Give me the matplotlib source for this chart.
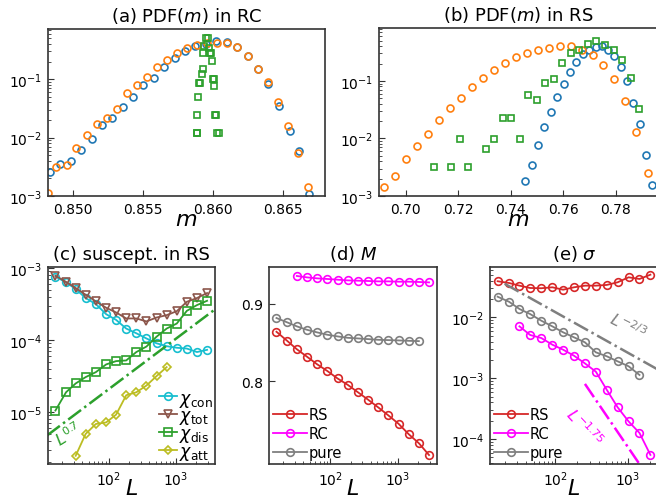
import numpy as np
import matplotlib
matplotlib.use("Agg")
import matplotlib.pyplot as plt

# ---------------- data ----------------
# (a) PDF(m) in RC
a_blue_m = [0.84831, 0.84906, 0.84981, 0.85054, 0.85131, 0.85204, 0.85279, 0.85354, 0.85429,
            0.85502, 0.85577, 0.85652, 0.85727, 0.85799, 0.85872, 0.85947, 0.86020, 0.86097,
            0.86172, 0.86247, 0.86322, 0.86395, 0.86470, 0.86547, 0.86617, 0.86688]
a_blue_p = [2.58e-3, 3.5e-3, 3.9e-3, 6.2e-3, 9.6e-3, 1.63e-2, 2.17e-2, 3.36e-2, 4.98e-2,
            8.0e-2, 0.103, 0.161, 0.226, 0.306, 0.373, 0.40, 0.45, 0.425,
            0.35, 0.245, 0.148, 0.081, 0.035, 0.013, 5.9e-3, 1.07e-3]
a_orange_m = [0.84820, 0.84878, 0.84953, 0.85023, 0.85098, 0.85171, 0.85241, 0.85312, 0.85382,
              0.85455, 0.85527, 0.85600, 0.85670, 0.85743, 0.85813, 0.85886, 0.85959, 0.86031,
              0.86102, 0.86172, 0.86247, 0.86320, 0.86392, 0.86465, 0.86535, 0.86605, 0.86680]
a_orange_p = [1.14e-3, 3.1e-3, 3.4e-3, 6.6e-3, 1.11e-2, 1.69e-2, 2.2e-2, 3.1e-2, 5.7e-2,
              7.9e-2, 0.11, 0.158, 0.21, 0.28, 0.336, 0.388, 0.42, 0.41,
              0.41, 0.35, 0.25, 0.15, 0.088, 0.04, 0.0155, 5.5e-3, 1.4e-3]
a_green_m = [0.85884, 0.85887, 0.85886, 0.85895, 0.85902, 0.85905, 0.85919, 0.85926, 0.85930,
             0.85938, 0.85948, 0.85962, 0.85970, 0.85975, 0.85985, 0.85990, 0.85998, 0.86003,
             0.86010, 0.86016, 0.86020, 0.86030, 0.86040]
a_green_p = [0.0122, 0.0122, 0.0244, 0.0485, 0.085, 0.085, 0.122, 0.148, 0.28,
             0.37, 0.5, 0.5, 0.34, 0.28, 0.28, 0.206, 0.1, 0.1,
             0.075, 0.0244, 0.0244, 0.0122, 0.0122]

# (b) PDF(m) in RS
b_blue_m = [0.7454, 0.7480, 0.7505, 0.7528, 0.7554, 0.7578, 0.7601, 0.7626, 0.7650, 0.7674,
            0.7698, 0.7723, 0.7747, 0.7770, 0.7795, 0.7819, 0.7843, 0.7867, 0.7891, 0.7915, 0.7940]
b_blue_p = [1.82e-3, 3.4e-3, 7.6e-3, 1.55e-2, 2.9e-2, 5.3e-2, 8.8e-2, 0.143, 0.214, 0.288,
            0.35, 0.39, 0.40, 0.34, 0.266, 0.171, 0.099, 0.042, 0.0179, 5.1e-3, 1.55e-3]
b_orange_m = [0.6917, 0.6958, 0.7000, 0.7043, 0.7084, 0.7126, 0.7169, 0.7211, 0.7253, 0.7294,
              0.7335, 0.7377, 0.7419, 0.7460, 0.7502, 0.7545, 0.7587, 0.7629, 0.7670, 0.7712,
              0.7752, 0.7795, 0.7837, 0.7879, 0.7921]
b_orange_p = [1.46e-3, 2.2e-3, 4.35e-3, 7.4e-3, 1.2e-2, 2.1e-2, 3.4e-2, 5.1e-2, 7.8e-2, 0.111,
              0.153, 0.203, 0.255, 0.31, 0.34, 0.375, 0.40, 0.40, 0.34, 0.28,
              0.19, 0.107, 0.044, 0.0131, 2.5e-3]
b_green_m = [0.7108, 0.7173, 0.7206, 0.7237, 0.7304, 0.7337, 0.7370, 0.7402, 0.7434, 0.7467,
             0.7500, 0.7532, 0.7564, 0.7597, 0.7629, 0.7661, 0.7694, 0.7726, 0.7759, 0.7792,
             0.7825, 0.7858, 0.7890]
b_green_p = [3.2e-3, 3.2e-3, 9.7e-3, 3.2e-3, 6.5e-3, 9.7e-3, 2.3e-2, 2.3e-2, 9.9e-3, 5.6e-2,
             4.6e-2, 0.092, 0.11, 0.208, 0.30, 0.346, 0.43, 0.49, 0.42, 0.346,
             0.23, 0.113, 0.033]

# system sizes
L = [16, 23, 32, 45, 64, 91, 128, 181, 256, 362, 512, 724, 1024, 1448, 2048, 2896]

# (c) susceptibilities in RS
chi_con = [7.57e-4, 6.3e-4, 5.1e-4, 3.82e-4, 3.15e-4, 2.28e-4, 1.9e-4, 1.44e-4,
           1.24e-4, 1.05e-4, 9.0e-5, 8.2e-5, 7.8e-5, 7.6e-5, 6.8e-5, 7.3e-5]
chi_tot = [7.8e-4, 6.4e-4, 5.26e-4, 4.25e-4, 3.43e-4, 2.8e-4, 2.41e-4, 1.99e-4,
           1.99e-4, 1.81e-4, 2.05e-4, 2.21e-4, 2.51e-4, 3.39e-4, 3.82e-4, 4.48e-4]
chi_dis = [1.05e-5, 1.88e-5, 2.49e-5, 3.05e-5, 3.58e-5, 4.58e-5, 5.09e-5, 5.2e-5,
           6.8e-5, 8.1e-5, 1.11e-4, 1.44e-4, 1.69e-4, 2.54e-4, 3.05e-4, 3.5e-4]
L_att = [32, 45, 64, 91, 128, 181, 256, 362, 512, 724]
chi_att = [2.47e-6, 4.96e-6, 6.83e-6, 7.18e-6, 9.2e-6, 1.71e-5, 1.88e-5, 2.33e-5, 3.15e-5, 4.2e-5]

# (d) magnetisation M
M_RS = [0.8639, 0.8522, 0.8413, 0.8318, 0.8218, 0.8130, 0.8035, 0.7953,
        0.7857, 0.7761, 0.7661, 0.7557, 0.7449, 0.7314, 0.7197, 0.7044]
L_RC = L[2:]
M_RC = [0.9361, 0.9343, 0.9330, 0.9322, 0.9313, 0.9304, 0.9300,
        0.9296, 0.9291, 0.9291, 0.9287, 0.9287, 0.9283, 0.9278]
L_pure = L[:15]
M_pure = [0.8817, 0.8761, 0.8709, 0.8665, 0.8631, 0.8600, 0.8579, 0.8561,
          0.8553, 0.8544, 0.8535, 0.8531, 0.8527, 0.8522, 0.8518]

# (e) sigma
Ls_RS = L[:15]
sig_RS = [0.0391, 0.0366, 0.0331, 0.0303, 0.0300, 0.0311, 0.0284, 0.0311,
          0.0331, 0.0331, 0.034, 0.0376, 0.0454, 0.0426, 0.0501]
Ls_RC = L[2:15]
sig_RC = [7.1e-3, 5.12e-3, 4.57e-3, 3.55e-3, 2.94e-3, 2.34e-3, 1.75e-3,
          1.28e-3, 6.45e-4, 3.32e-4, 1.95e-4, 1.26e-4, 5.5e-5]
Ls_pure = L[:14]
sig_pure = [0.0218, 0.018, 0.0137, 0.0113, 8.8e-3, 7.1e-3, 5.67e-3,
            4.69e-3, 3.88e-3, 2.66e-3, 2.29e-3, 1.89e-3, 1.57e-3, 1.13e-3]

# guide lines: (prefactor, exponent, L range)
guide_c = (8.3e-7, 0.7, [12, 4000])
guide_e1 = (0.262, -2 / 3, [20, 3000])
guide_e2 = (13.2, -1.75, [256, 2000])

MAG = "#ff00ff"

# ---------------- figure ----------------
W, H = 656, 502
fig = plt.figure(figsize=(W / 100, H / 100), dpi=100)


def box(l, r, t, b):
    return fig.add_axes([l / W, 1 - b / H, (r - l) / W, (b - t) / H])


def style(ax):
    ax.tick_params(which="both", direction="in", labelsize=10, color="0.2", pad=4)
    ax.tick_params(which="major", length=4)
    ax.tick_params(which="minor", length=2)
    for s in ax.spines.values():
        s.set_color("0.2")
        s.set_linewidth(1.2)


ax_a = box(48, 325, 30, 197)
ax_b = box(379, 658, 29, 197)
ax_c = box(48, 215, 268, 465)
ax_d = box(269, 437, 268, 465)
ax_e = box(490, 658, 268, 465)

po = dict(ls="none", mfc="none", mew=1.2)
TFS = 13
XFS = 16

# (a)
ax_a.plot(a_blue_m, a_blue_p, "o", color="C0", ms=5, **po)
ax_a.plot(a_orange_m, a_orange_p, "o", color="C1", ms=5, **po)
ax_a.plot(a_green_m, a_green_p, "s", color="C2", ms=4.5, **po)
ax_a.set_yscale("log")
ax_a.set_xlim(0.8482, 0.8680)
ax_a.set_ylim(1e-3, 0.72)
ax_a.set_xticks([0.850, 0.855, 0.860, 0.865])
ax_a.set_title("(a) PDF($m$) in RC", fontsize=TFS)
ax_a.set_xlabel("$m$", fontsize=XFS, labelpad=-5)

# (b)
ax_b.plot(b_blue_m, b_blue_p, "o", color="C0", ms=5, **po)
ax_b.plot(b_orange_m, b_orange_p, "o", color="C1", ms=5, **po)
ax_b.plot(b_green_m, b_green_p, "s", color="C2", ms=4.5, **po)
ax_b.set_yscale("log")
ax_b.set_xlim(0.6898, 0.7961)
ax_b.set_ylim(1e-3, 0.83)
ax_b.set_xticks([0.70, 0.72, 0.74, 0.76, 0.78])
ax_b.set_title("(b) PDF($m$) in RS", fontsize=TFS)
ax_b.set_xlabel("$m$", fontsize=XFS, labelpad=-5)

lo = dict(mfc="none", mew=1.2, lw=1.3, ms=5.5)

# (c)
ax_c.plot(L, chi_con, "o-", color="C9", label=r"$\chi_{\rm con}$", **lo)
ax_c.plot(L, chi_tot, "v-", color="C5", label=r"$\chi_{\rm tot}$", **lo)
ax_c.plot(L, chi_dis, "s-", color="C2", label=r"$\chi_{\rm dis}$", **lo)
ax_c.plot(L_att, chi_att, "D-", color="C8", label=r"$\chi_{\rm att}$", **dict(lo, ms=4.5))
gx = np.array(guide_c[2], dtype=float)
ax_c.plot(gx, guide_c[0] * gx ** guide_c[1], "-.", color="C2", lw=1.8)
ax_c.text(25, 5.0e-6, "$L^{0.7}$", color="C2", fontsize=11.5, rotation=32,
          ha="center", va="center")
ax_c.set_xscale("log")
ax_c.set_yscale("log")
ax_c.set_xlim(12.4, 3800)
ax_c.set_ylim(1.9e-6, 1.03e-3)
ax_c.set_title("(c) suscept. in RS", fontsize=TFS)
ax_c.set_xlabel("$L$", fontsize=XFS, labelpad=-7)
ax_c.legend(loc="lower right", frameon=False, fontsize=12.5, handlelength=1.0,
            handletextpad=0.15, labelspacing=-0.12, borderaxespad=0.0, borderpad=0.1)

# (d)
ax_d.plot(L, M_RS, "o-", color="C3", label="RS", **lo)
ax_d.plot(L_RC, M_RC, "o-", color=MAG, label="RC", **lo)
ax_d.plot(L_pure, M_pure, "o-", color="C7", label="pure", **lo)
ax_d.set_xscale("log")
ax_d.set_xlim(12.4, 3800)
ax_d.set_ylim(0.6928, 0.9477)
ax_d.set_yticks([0.8, 0.9])
ax_d.set_title("(d) $M$", fontsize=TFS)
ax_d.set_xlabel("$L$", fontsize=XFS, labelpad=-7)
ax_d.legend(loc="lower left", frameon=False, fontsize=10.5, handlelength=2.3,
            handletextpad=0.1, labelspacing=0.25, borderaxespad=0.1, borderpad=0.2)

# (e)
ax_e.plot(Ls_RS, sig_RS, "o-", color="C3", label="RS", **lo)
ax_e.plot(Ls_RC, sig_RC, "o-", color=MAG, label="RC", **lo)
ax_e.plot(Ls_pure, sig_pure, "o-", color="C7", label="pure", **lo)
gx = np.array(guide_e1[2], dtype=float)
ax_e.plot(gx, guide_e1[0] * gx ** guide_e1[1], "-.", color="C7", lw=1.8)
gx = np.array(guide_e2[2], dtype=float)
ax_e.plot(gx, guide_e2[0] * gx ** guide_e2[1], "-.", color=MAG, lw=1.8)
ax_e.text(1000, 7.5e-3, "$L^{-2/3}$", color="C7", fontsize=11.5, rotation=-27,
          ha="center", va="center")
ax_e.text(250, 1.6e-4, "$L^{-1.75}$", color=MAG, fontsize=11.5, rotation=-47,
          ha="center", va="center")
ax_e.set_xscale("log")
ax_e.set_yscale("log")
ax_e.set_xlim(12.56, 2606)
ax_e.set_ylim(3.9e-5, 0.067)
ax_e.set_title(r"(e) $\sigma$", fontsize=TFS)
ax_e.set_xlabel("$L$", fontsize=XFS, labelpad=-7)
ax_e.legend(loc="lower left", frameon=False, fontsize=10.5, handlelength=2.3,
            handletextpad=0.1, labelspacing=0.25, borderaxespad=0.1, borderpad=0.2)

for ax in (ax_a, ax_b, ax_c, ax_d, ax_e):
    style(ax)

fig.savefig("out.png", dpi=100)
